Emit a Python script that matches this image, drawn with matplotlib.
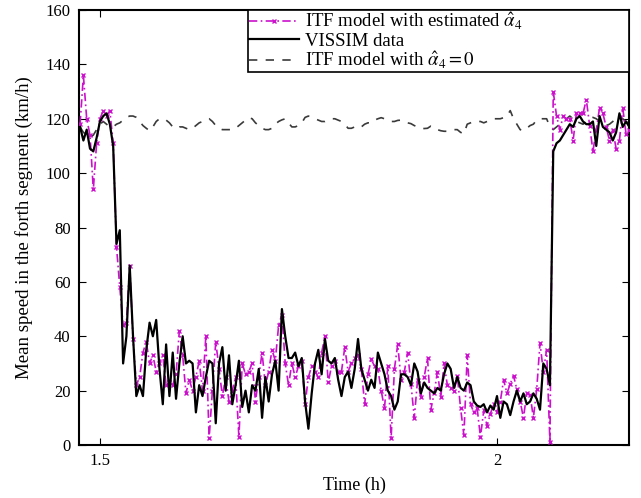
import numpy as np
import matplotlib
matplotlib.use("Agg")
import matplotlib.pyplot as plt

plt.rcParams['font.family'] = ['Liberation Serif', 'DejaVu Serif']
plt.rcParams['mathtext.fontset'] = 'stix'

# time grid, one sample every 15 s
t_start, t_end = 1.475, 2.1667

vissim = [117, 112, 116, 109, 108, 113, 119, 121, 122, 118,
          110, 74, 79, 30, 40, 66, 40, 18, 22, 18,
          35, 45, 40, 46, 28, 15, 37, 18, 34, 17,
          30, 40, 30, 31, 30, 12, 22, 18, 25, 31,
          30, 8, 30, 36, 20, 33, 15, 22, 31, 14,
          20, 12, 22, 20, 28, 10, 25, 16, 26, 31,
          20, 50, 40, 32, 32, 34, 29, 32, 16, 6,
          19, 30, 35, 26, 39, 31, 30, 32, 24, 18,
          25, 27, 21, 28, 39, 28, 24, 20, 24, 21,
          34, 30, 26, 20, 18, 13, 16, 26, 26, 25,
          22, 30, 27, 19, 23, 21, 20, 19, 21, 20,
          26, 30, 28, 21, 25, 21, 20, 23, 22, 16,
          14.5, 14, 15, 12, 14.5, 13, 18, 10, 16, 15,
          11, 16, 20, 16, 19, 15, 16, 19, 17, 13,
          30, 28, 22, 108, 111, 112, 114, 116, 118, 117,
          120, 121, 119, 118, 118, 119, 110, 121, 117, 116,
          115, 112, 115, 122, 117, 119, 117]

itf_est = [118, 136, 120, 114, 94, 111, 120, 123, 121, 123,
           111, 73, 58, 44, 45, 66, 39, 22, 25, 34,
           38, 30, 33, 27, 30, 33, 22, 23, 22, 26,
           42, 33, 19, 24, 20, 25, 31, 20, 40, 2.5,
           20, 38, 28, 18, 25, 16, 20, 25, 3, 30,
           26, 27, 30, 16, 25, 34, 22, 27, 35, 31,
           44, 48, 30, 22, 30, 25, 29, 31, 15, 25,
           29, 27, 25, 34, 40, 23, 29, 31, 27, 27,
           36, 27, 30, 32, 33, 28, 15, 26, 31.5, 29,
           28, 20, 13.5, 29, 2.5, 28, 37, 24, 27, 34,
           22.5, 10, 24, 17.5, 25, 32, 13, 19, 27, 17.5,
           30, 22, 21, 20, 25.5, 13.5, 3.5, 33, 15, 12,
           13.5, 3, 12.7, 7, 11.5, 15, 12, 16, 24, 19,
           22.5, 25.5, 20.5, 16, 10, 19, 18.5, 10, 20.5, 37.5,
           27, 35, 1, 130, 121, 116, 121, 120, 120, 112,
           122, 122, 122, 127, 117.5, 108, 116, 124, 122, 117,
           112, 116, 109, 112, 124, 114.5, 116]

itf_zero = [117, 115, 114, 113, 114, 116, 118, 119, 118, 117,
            117, 118, 118.5, 119.5, 120.5, 121, 121, 120.5, 119, 117.5,
            116.5, 115.6, 117, 119, 120, 120, 119.5, 118.5, 117, 116.4,
            117, 117, 116.5, 116, 116.5, 117.5, 118.5, 119, 119.5, 120,
            119, 117.5, 116.5, 116, 116, 116, 116, 116.5, 117.5, 118.5,
            119.5, 120.4, 120, 118.5, 117.5, 116.5, 116, 116, 116.5, 118,
            119, 119.6, 120, 118.5, 117, 117, 117.5, 118.5, 120.5, 121,
            120.5, 120, 119.5, 119, 119, 119.5, 120, 120, 119.5, 119,
            118, 116.5, 116.5, 117, 116.5, 117, 118, 118.5, 118.5, 119.5,
            120, 120.4, 120, 119.5, 119, 119, 119.4, 119.5, 119, 118.5,
            118.2, 117.5, 117, 116.5, 116.4, 116.5, 117.3, 117, 116, 115.6,
            115.4, 115.4, 115.6, 116, 116, 115, 114.5, 118, 118.5, 119,
            119, 119, 118.5, 119, 119.6, 120, 120, 120, 120.4, 121,
            123, 120, 118, 116, 115.6, 116.5, 117.5, 118, 119.6, 120,
            120, 120, 117, 116, 117, 118, 119, 120, 121, 120,
            119, 118.5, 118, 119, 120, 120.5, 120, 119, 118, 117.5,
            118, 119, 120, 120.5, 120, 119, 118]

x_ticks = [1.5, 2]
y_ticks = [0, 20, 40, 60, 80, 100, 120, 140, 160]

t = np.linspace(t_start, t_end, len(vissim))

fig = plt.figure(figsize=(6.41, 4.98), dpi=100)
ax = fig.add_axes([0.1232, 0.1064, 0.858, 0.8735])

l_zero, = ax.plot(t, itf_zero, color='#3a3a3a', lw=1.2,
                  linestyle=(0, (5, 5)), zorder=2)
l_est, = ax.plot(t, itf_est, color='#cc11cc', lw=1.2,
                 linestyle=(0, (5, 2, 1, 2)), marker='x', ms=3.5,
                 mew=1.0, zorder=3)
l_vis, = ax.plot(t, vissim, color='black', lw=1.6, zorder=4)

ax.set_xlim(1.4736, 2.1662)
ax.set_ylim(0, 160)
ax.set_xticks(x_ticks)
ax.set_xticklabels(['1.5', '2'])
ax.set_yticks(y_ticks)
ax.tick_params(direction='in', length=5, width=0.8, labelsize=12,
               top=True, right=True, pad=6)
for s in ax.spines.values():
    s.set_linewidth(1.5)

ax.set_xlabel('Time (h)', fontsize=13, labelpad=5)
ax.set_ylabel('Mean speed in the forth segment (km/h)', fontsize=13.6, labelpad=9)

# legend box stretched to the left like the original
leg = ax.legend([l_est, l_vis, l_zero],
                [r'ITF model with estimated $\hat{\alpha}_4$',
                 'VISSIM data',
                 r'ITF model with $\hat{\alpha}_4 = 0$'],
                loc='upper right', bbox_to_anchor=(0.307, 0.0, 0.693, 1.0),
                mode='expand', borderaxespad=0, fancybox=False,
                framealpha=1, edgecolor='black', fontsize=13.5,
                handlelength=2.7, handletextpad=0.3, labelspacing=0.0,
                borderpad=0.05, markerscale=1.0)
leg.get_frame().set_linewidth(1.2)

fig.savefig('out.png', dpi=100)
